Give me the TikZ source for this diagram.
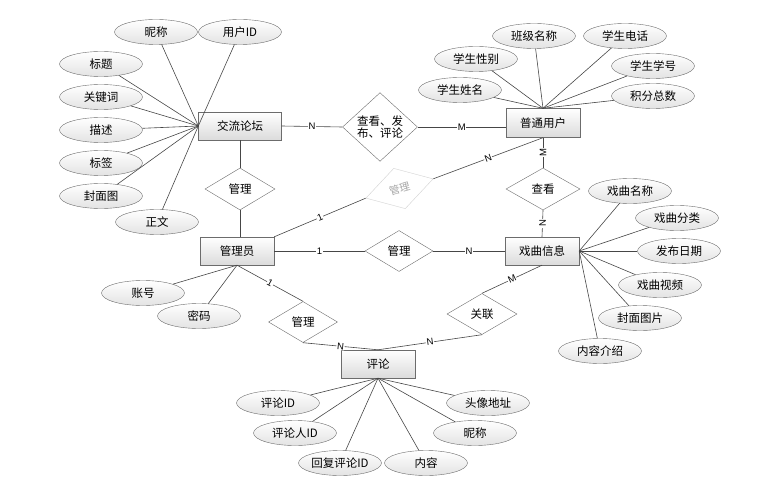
\documentclass[tikz,border=0pt]{standalone}
\usepackage{fontspec}
\newfontfamily\cjk{Noto Sans CJK SC}
\newfontfamily\card{Liberation Sans}
\usetikzlibrary{shapes.geometric}
\tikzset{
    ent/.style = {draw = gray!85!black, top color = white, bottom color = gray!28, minimum width = 74pt, minimum height = 28pt, inner sep = 1pt, font = \cjk\fontsize{11.5}{13}\selectfont},
    attr/.style = {ellipse, draw = gray!85!black, top color = white, bottom color = gray!22, minimum width = 83pt, minimum height = 25pt, inner sep = 0pt, font = \cjk\fontsize{11.5}{13}\selectfont},
    rel/.style = {diamond, draw = gray!85!black, fill = white, minimum width = 70pt, minimum height = 42pt, inner sep = 0pt, font = \cjk\fontsize{11.5}{13}\selectfont},
    lnk/.style = {draw = gray!55!black, line width = 0.6pt},
    card/.style = {fill = white, inner sep = 0.6pt, font = \card\fontsize{9.5}{10}\selectfont}
}
\begin{document}
\begin{tikzpicture}[x = 1pt, y = -1pt]
    \useasboundingbox (0, 0) rectangle (783, 494);

    % entities
    \node [ent, minimum width = 83pt] (lt) at (240, 126) {交流论坛};
    \node [ent, minimum height = 29pt] (yh) at (543, 123) {普通用户};
    \node [ent] (gly) at (237, 251) {管理员};
    \node [ent] (xq) at (542, 251) {戏曲信息};
    \node [ent] (pl) at (378, 364) {评论};

    % relations
    \node [rel, minimum width = 75pt, minimum height = 48pt, align = center, font = \cjk\fontsize{11.5}{12}\selectfont] (ckfb) at (380, 127) {查看、发\\布、评论};
    \node [rel] (gl1) at (240, 189) {管理};
    \node [rel, draw = gray!35, text = gray!70, rotate = 16, font = \cjk\fontsize{10.5}{12}\selectfont] (gl2) at (399.5, 188.5) {管理};
    \node [rel, minimum width = 68pt, minimum height = 41pt] (gl3) at (399, 251) {管理};
    \node [rel, minimum width = 74pt] (ck) at (543, 189) {查看};
    \node [rel, minimum width = 69pt, minimum height = 41pt] (gl4) at (303, 322) {管理};
    \node [rel, minimum height = 41pt] (gll) at (482, 314) {关联};

    % links between entities and relations
    \draw [lnk] (lt.east) -- node [card] {N} (ckfb.west);
    \draw [lnk] (ckfb.east) -- node [card] {M} (yh.west |- ckfb.east);
    \draw [lnk] (lt.south) -- (gl1.north);
    \draw [lnk] (gl1.south) -- (gly.north -| gl1.south);
    \draw [lnk] (gly.north east) -- node [card, sloped] {1} (gl2.west);
    \draw [lnk] (gl2.east) -- node [card, sloped] {N} (yh.south);
    \draw [lnk] (gly.east) -- node [card] {1} (gl3.west);
    \draw [lnk] (gl3.east) -- node [card] {N} (xq.west);
    \draw [lnk] (yh.south) -- node [card, rotate = 90] {M} (ck.north);
    \draw [lnk] (ck.south) -- node [card, rotate = 90] {N} (xq.north);
    \draw [lnk] (gly.south) -- node [card, sloped] {1} (gl4.north);
    \draw [lnk] (gl4.south) -- node [card, sloped] {N} (pl.north);
    \draw [lnk] (pl.north) -- node [card, sloped] {N} (gll.south);
    \draw [lnk] (gll.north) -- node [card, sloped] {M} (xq.south);

    % attributes of 交流论坛
    \node [attr] (lt1) at (156, 32) {昵称};
    \node [attr] (lt2) at (240, 32) {用户ID};
    \node [attr] (lt3) at (101, 64) {标题};
    \node [attr] (lt4) at (101, 97) {关键词};
    \node [attr] (lt5) at (101, 130) {描述};
    \node [attr] (lt6) at (101, 163) {标签};
    \node [attr] (lt7) at (101, 196) {封面图};
    \node [attr] (lt8) at (157, 222) {正文};
    \draw [lnk] (lt1) -- (lt.west);
    \draw [lnk] (lt2) -- (lt.west);
    \draw [lnk] (lt3) -- (lt.west);
    \draw [lnk] (lt4) -- (lt.west);
    \draw [lnk] (lt5) -- (lt.west);
    \draw [lnk] (lt6) -- (lt.west);
    \draw [lnk] (lt7) -- (lt.west);
    \draw [lnk] (lt8) -- (lt.west);

    % attributes of 普通用户
    \node [attr] (yh1) at (534, 36) {班级名称};
    \node [attr] (yh2) at (625, 36) {学生电话};
    \node [attr] (yh3) at (476, 59) {学生性别};
    \node [attr] (yh4) at (653, 66) {学生学号};
    \node [attr] (yh5) at (460, 90) {学生姓名};
    \node [attr] (yh6) at (653, 96) {积分总数};
    \draw [lnk] (yh1) -- (yh.north);
    \draw [lnk] (yh2) -- (yh.north);
    \draw [lnk] (yh3) -- (yh.north);
    \draw [lnk] (yh4) -- (yh.north);
    \draw [lnk] (yh5) -- (yh.north);
    \draw [lnk] (yh6) -- (yh.north);

    % attributes of 戏曲信息
    \node [attr] (xq1) at (630, 191) {戏曲名称};
    \node [attr] (xq2) at (677, 218) {戏曲分类};
    \node [attr] (xq3) at (679, 251) {发布日期};
    \node [attr] (xq4) at (660, 285) {戏曲视频};
    \node [attr] (xq5) at (640, 318) {封面图片};
    \node [attr] (xq6) at (600, 351) {内容介绍};
    \draw [lnk] (xq1) -- (xq.east);
    \draw [lnk] (xq2) -- (xq.east);
    \draw [lnk] (xq3) -- (xq.east);
    \draw [lnk] (xq4) -- (xq.east);
    \draw [lnk] (xq5) -- (xq.east);
    \draw [lnk] (xq6) -- (xq.east);

    % attributes of 管理员
    \node [attr] (gly1) at (143, 293) {账号};
    \node [attr] (gly2) at (199, 316) {密码};
    \draw [lnk] (gly1) -- (gly.south);
    \draw [lnk] (gly2) -- (gly.south);

    % attributes of 评论
    \node [attr] (pl1) at (278, 403) {评论ID};
    \node [attr] (pl2) at (295, 433) {评论人ID};
    \node [attr] (pl3) at (340, 463) {回复评论ID};
    \node [attr] (pl4) at (426, 463) {内容};
    \node [attr] (pl5) at (475, 433) {昵称};
    \node [attr] (pl6) at (488, 403) {头像地址};
    \draw [lnk] (pl1) -- (pl.south);
    \draw [lnk] (pl2) -- (pl.south);
    \draw [lnk] (pl3) -- (pl.south);
    \draw [lnk] (pl4) -- (pl.south);
    \draw [lnk] (pl5) -- (pl.south);
    \draw [lnk] (pl6) -- (pl.south);
\end{tikzpicture}
\end{document}
